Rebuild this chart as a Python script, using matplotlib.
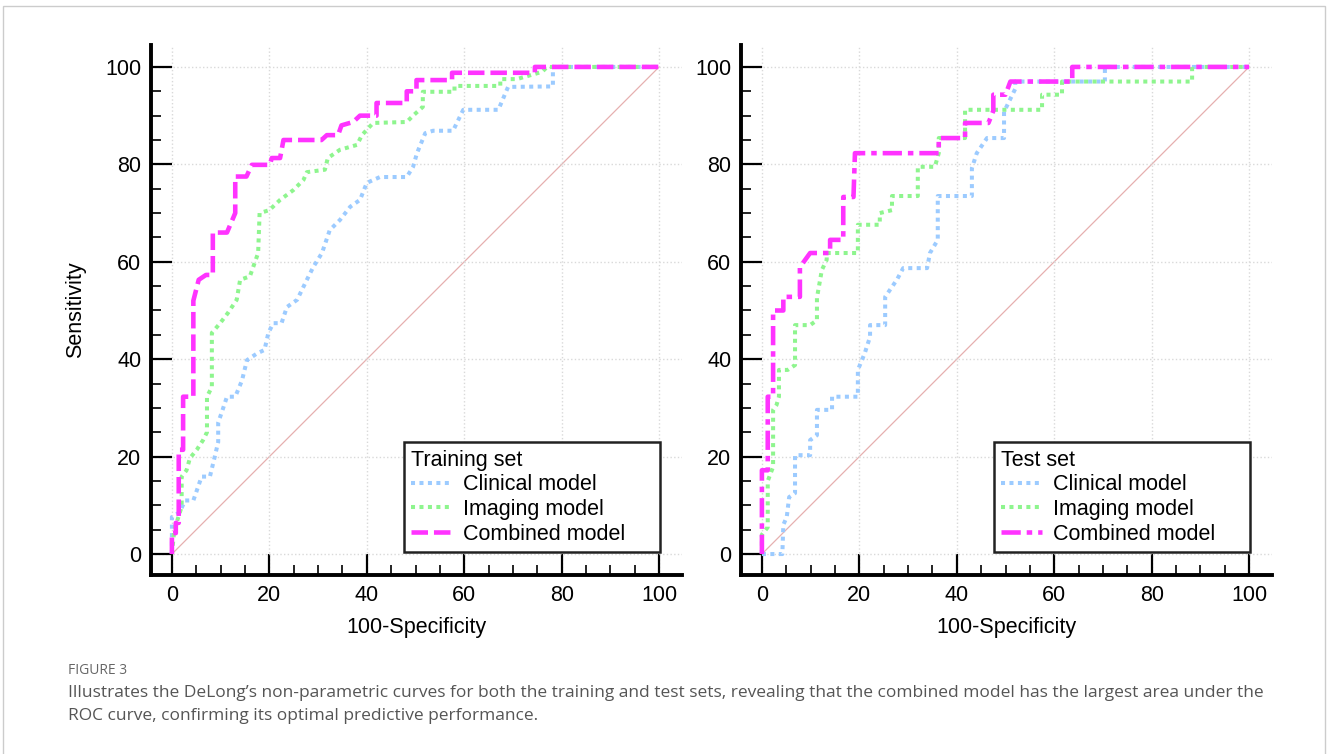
import matplotlib.pyplot as plt
from matplotlib.ticker import MultipleLocator
from matplotlib.patches import Rectangle

plt.rcParams['font.family'] = ['Liberation Sans', 'DejaVu Sans']

# ---- training set (100-specificity, sensitivity) ----
train_clin_x = [0, 0, 1.6, 2.7, 4.4, 6.1, 7.8, 8.8, 9.5, 9.5, 10.2, 11.3, 13, 14, 14.4, 15.4, 17.5, 19, 19.8,
                20.8, 22.5, 23.6, 25.7, 27.7, 29, 30.8, 32.4, 34.5, 36.6, 38.6, 40, 42.7, 48.2, 49.5, 50.3,
                52, 53.6, 57.7, 59.8, 67, 69, 78.2, 78.2, 100]
train_clin_y = [0, 7.6, 8.6, 11, 11, 15.9, 15.9, 20, 23, 27, 29, 32.3, 32.3, 34.7, 35.7, 39.8, 41.2, 41.9, 45.4,
                47.4, 47.4, 50.7, 52.2, 56.3, 58.9, 61.8, 66.5, 68.6, 71.3, 72.7, 76.2, 77.4, 77.4, 79.5, 82.3,
                86.4, 86.9, 86.9, 91.2, 91.2, 95.9, 96, 100, 100]

train_img_x = [0, 0.5, 2, 2, 3, 3.7, 5.1, 6.4, 7.2, 7.2, 8.2, 8.2, 9.9, 11.5, 13.3, 14, 16, 17.7, 18, 20, 22.2,
               24.9, 27, 27.7, 31.4, 32, 34.5, 38, 39, 41.3, 48.2, 49.5, 51.5, 51.5, 58, 58, 67.4, 67.4, 70.8,
               76, 77, 100]
train_img_y = [0, 5, 9.7, 15.9, 17.2, 19.7, 21.4, 23.4, 25, 32.3, 34.3, 45.4, 47.4, 49.5, 52.2, 56.3, 57, 61.8,
               70, 70.6, 72.7, 74.7, 76.8, 78.4, 78.9, 81.3, 83, 84, 86, 88.5, 88.7, 90, 91.8, 94.9, 94.9, 96.1,
               96.1, 97.5, 97.5, 99, 100, 100]

train_comb_x = [0, 0, 0.8, 0.8, 1.4, 1.4, 2.3, 2.3, 4.4, 4.4, 5.5, 7, 8.4, 8.4, 11.3, 13, 13, 15.3, 16.4, 20.1,
                20.5, 22.2, 22.9, 30.7, 31.8, 34.1, 34.8, 37.2, 38.6, 42, 42, 48.2, 48.2, 50.2, 50.2, 57.5,
                57.5, 74.5, 74.5, 100]
train_comb_y = [0, 4.3, 4.3, 6.4, 6.4, 21.4, 21.4, 32.3, 32.3, 52, 56.3, 57.3, 57.3, 66, 66, 70, 77.5, 77.5,
                79.9, 79.9, 81.3, 81.3, 85, 85, 86, 86, 88, 88.7, 90, 90, 92.6, 92.6, 95, 95, 97.3, 97.3, 98.8,
                98.8, 100, 100]

# ---- test set ----
test_clin_x = [0, 4.2, 4.4, 5.1, 5.6, 6.8, 6.8, 9.9, 9.9, 11.3, 11.3, 14.4, 14.4, 19.7, 19.7, 21.1, 22.2, 22.2,
               25.3, 25.3, 27.7, 29, 33.9, 34.5, 36.1, 36.1, 43.1, 43.1, 44.1, 46.2, 46.2, 49.7, 49.7, 52,
               52, 70.4, 70.4, 100]
test_clin_y = [0, 0, 6, 7.6, 11.7, 12.5, 20.3, 20.3, 23.4, 24.4, 29.6, 29.6, 32.3, 32.3, 37.8, 41.2, 44.6, 47,
               47, 52.8, 56.3, 58.7, 58.7, 61.8, 64.5, 73.5, 73.5, 79.2, 82.3, 85.4, 85.4, 85.4, 90.8, 95.5,
               97, 97, 100, 100]

test_img_x = [0, 0, 1.2, 1.2, 2.3, 2.3, 3, 3.5, 3.5, 5.3, 6.8, 6.8, 9.9, 11.3, 11.3, 12.3, 13.3, 13.3, 19.7,
              19.7, 24.2, 24.2, 26.7, 26.7, 32, 32, 35.5, 36.3, 36.3, 41.7, 41.7, 57.5, 57.5, 61.6, 61.6, 88.3,
              88.3, 100]
test_img_y = [0, 4, 5.5, 15, 17.9, 29.6, 30.6, 32.3, 37.8, 37.8, 38.8, 47, 47, 48, 52.6, 58.3, 60.4, 61.8, 61.8,
              67.6, 67.6, 70, 70.6, 73.5, 73.5, 79.5, 79.5, 82.3, 85.4, 85.4, 91.2, 91.2, 94.3, 94.3, 97, 97,
              100, 100]

test_comb_x = [0, 0, 1.2, 1.2, 2.3, 2.3, 4.4, 4.4, 7.8, 7.8, 9.9, 14, 14, 16.7, 16.7, 18.8, 19.1, 36.3, 36.3,
               41.7, 41.7, 46.5, 47.5, 47.5, 50, 51, 63.7, 63.7, 100]
test_comb_y = [0, 17.2, 17.2, 32.3, 32.3, 50, 50, 52.8, 52.8, 58.9, 61.8, 61.8, 64.5, 64.5, 73.3, 73.3, 82.3,
               82.3, 85.4, 85.4, 88.5, 88.5, 91, 94.3, 94.3, 97, 97, 100, 100]

model_names = ['Clinical model', 'Imaging model', 'Combined model']
clin_color = '#9ccbff'
img_color = '#8ef58e'
comb_color = '#ff33ff'
diag_color = '#e6b0b0'


def draw_panel(ax, clin, img, comb, comb_dashes, title):
    ax.plot([0, 100], [0, 100], color=diag_color, lw=0.9, zorder=1)
    ax.plot(clin[0], clin[1], color=clin_color, lw=2.9, dashes=(1, 1.1), label=model_names[0], zorder=2)
    ax.plot(img[0], img[1], color=img_color, lw=2.9, dashes=(1, 1.1), label=model_names[1], zorder=3)
    ax.plot(comb[0], comb[1], color=comb_color, lw=3.3, dashes=comb_dashes, label=model_names[2], zorder=4)

    ax.set_xlim(-4.3, 104.7)
    ax.set_ylim(-4.3, 104.5)
    ax.xaxis.set_major_locator(MultipleLocator(20))
    ax.yaxis.set_major_locator(MultipleLocator(20))
    ax.xaxis.set_minor_locator(MultipleLocator(5))
    ax.yaxis.set_minor_locator(MultipleLocator(5))
    ax.grid(True, which='major', color='#d9d9d9', ls=':', lw=1.0)
    for s in ['top', 'right']:
        ax.spines[s].set_visible(False)
    for s in ['left', 'bottom']:
        ax.spines[s].set_linewidth(2.8)
    ax.tick_params(which='major', direction='in', length=15, width=1.6, labelsize=15.5, pad=7)
    ax.tick_params(which='minor', direction='in', length=7.5, width=1.2)
    ax.set_xlabel('100-Specificity', fontsize=15.5, labelpad=8)

    leg = ax.legend(title=title, loc='lower left', bbox_to_anchor=(47.6, 0.4, 52.6, 22.6),
                    bbox_transform=ax.transData, mode='expand', borderaxespad=0, fancybox=False,
                    edgecolor='#222222', fontsize=15.5, title_fontsize=15.5, alignment='left',
                    handlelength=1.9, handletextpad=0.5, labelspacing=0.17, borderpad=0.35,
                    framealpha=1)
    leg.get_frame().set_linewidth(1.8)


fig = plt.figure(figsize=(13.3, 7.54), dpi=100)
ax1 = fig.add_axes([0.1135, 0.2374, 0.3993, 0.7029])
ax2 = fig.add_axes([0.5571, 0.2374, 0.3993, 0.7029])

draw_panel(ax1, (train_clin_x, train_clin_y), (train_img_x, train_img_y),
           (train_comb_x, train_comb_y), (3.6, 1.3), 'Training set')
draw_panel(ax2, (test_clin_x, test_clin_y), (test_img_x, test_img_y),
           (test_comb_x, test_comb_y), (4.2, 1.3, 1.2, 1.3), 'Test set')
ax1.set_ylabel('Sensitivity', fontsize=15.5, labelpad=14)

# caption and frame
fig.patches.append(Rectangle((3, -20), 1322, 768, transform=None, fill=False,
                             edgecolor='#cccccc', lw=1.0))
fig.text(68 / 1330, 1 - 670 / 754, 'FIGURE 3', fontsize=10, color='#666666',
         family=['Open Sans', 'DejaVu Sans'], va='center')
fig.text(68 / 1330, 1 - 693 / 754,
         'Illustrates the DeLong\u2019s non-parametric curves for both the training and test sets, '
         'revealing that the combined model has the largest area under the',
         fontsize=12.5, color='#555555', family=['Open Sans', 'DejaVu Sans'], va='center')
fig.text(68 / 1330, 1 - 716 / 754, 'ROC curve, confirming its optimal predictive performance.',
         fontsize=12.5, color='#555555', family=['Open Sans', 'DejaVu Sans'], va='center')

fig.savefig('out.png', dpi=100, facecolor='white')
